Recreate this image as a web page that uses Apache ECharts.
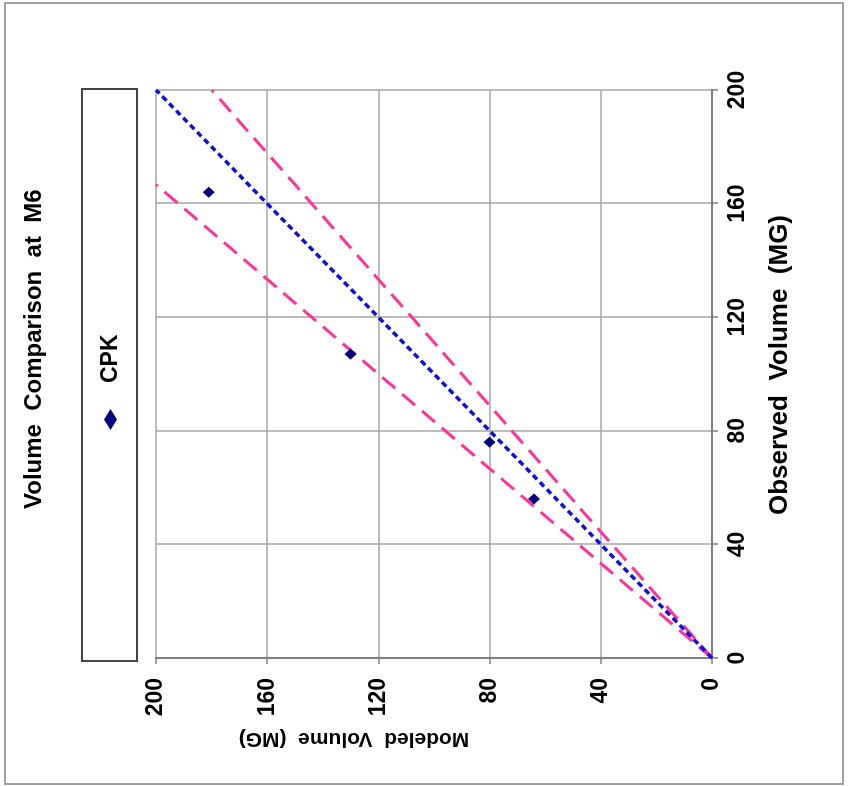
<!DOCTYPE html>
<html>
<head>
<meta charset="utf-8">
<script src="https://cdn.jsdelivr.net/npm/echarts@6/dist/echarts.min.js"></script>
<style>
  html, body { margin: 0; padding: 0; background: #fff; overflow: hidden; }
  #wrap { position: absolute; left: 0; top: 0; width: 849px; height: 786px; overflow: hidden; }
  /* chart is drawn upright, then turned 90° counter-clockwise like the reference */
  #chart { position: absolute; left: 0; top: 0; width: 786px; height: 849px;
           transform-origin: 0 0; transform: translate(0, 786px) rotate(-90deg); }
</style>
</head>
<body>
<div id="wrap"><div id="chart"></div></div>
<script>
// ---- data ----
const titleText = 'Volume  Comparison  at  M6';
const xName = 'Observed  Volume  (MG)';
const yName = 'Modeled  Volume  (MG)';
const seriesName = 'CPK';
const observed = [164, 107, 76, 56];
const modeled  = [181, 130, 80, 64];
const oneToOne   = [[0, 0], [200, 200]];
const upperBand  = [[0, 0], [166.7, 200]];  // modeled = 1.2 x observed
const lowerBand  = [[0, 0], [200, 180]];    // modeled = 0.9 x observed
const axisMin = 0, axisMax = 200, axisStep = 40;

const font = "'Liberation Sans', Arial, sans-serif";
const points = observed.map((o, i) => [o, modeled[i]]);

const chart = echarts.init(document.getElementById('chart'), null, { renderer: 'canvas' });
chart.setOption({
  backgroundColor: '#fff',
  animation: false,
  title: {
    text: titleText, left: 277, top: 22, padding: 0,
    textStyle: { fontFamily: font, fontSize: 24, fontWeight: 'bold', color: '#000' }
  },
  legend: {
    data: [seriesName], left: 356, top: 99, padding: 0,
    itemWidth: 21, itemHeight: 13, icon: 'diamond',
    itemStyle: { color: '#000080', opacity: 1 },
    textStyle: { fontFamily: font, fontSize: 23, fontWeight: 'bold', color: '#000', padding: [0, 0, 0, 21] }
  },
  graphic: [
    { type: 'rect', shape: { x: 2, y: 5, width: 781, height: 838 }, silent: true,
      style: { fill: null, stroke: '#a0a0a0', lineWidth: 2 } },
    { type: 'rect', shape: { x: 125, y: 82, width: 572, height: 55 }, silent: true,
      style: { fill: null, stroke: '#444', lineWidth: 2 } }
  ],
  grid: { left: 128, right: 90, top: 156, bottom: 137 },
  xAxis: {
    type: 'value', min: axisMin, max: axisMax, interval: axisStep,
    name: xName, nameLocation: 'middle', nameGap: 55,
    nameTextStyle: { fontFamily: font, fontSize: 26, fontWeight: 'bold', color: '#000', padding: [0, 0, 0, 18] },
    axisLine: { show: true, lineStyle: { color: '#808080', width: 2 } },
    axisTick: { show: true, inside: false, length: 6, lineStyle: { color: '#808080', width: 1.5 } },
    axisLabel: { margin: 14, fontFamily: font, fontSize: 23, fontWeight: 'bold', color: '#000' },
    splitLine: { show: true, lineStyle: { color: '#a6a6a6', width: 1.5 } }
  },
  yAxis: {
    type: 'value', min: axisMin, max: axisMax, interval: axisStep,
    name: yName, nameLocation: 'middle', nameGap: 70,
    nameTextStyle: { fontFamily: font, fontSize: 21, fontWeight: 'bold', color: '#000', padding: [0, 0, 0, 160] },
    axisLine: { show: true, lineStyle: { color: '#808080', width: 2 } },
    axisTick: { show: true, inside: false, length: 6, lineStyle: { color: '#808080', width: 1.5 } },
    axisLabel: { margin: 20, fontFamily: font, fontSize: 23, fontWeight: 'bold', color: '#000' },
    splitLine: { show: true, lineStyle: { color: '#a6a6a6', width: 1.5 } }
  },
  series: [
    { name: 'upper', type: 'line', data: upperBand, symbol: 'none', z: 2,
      lineStyle: { color: '#ff3399', width: 3, type: [17, 9] } },
    { name: 'lower', type: 'line', data: lowerBand, symbol: 'none', z: 2,
      lineStyle: { color: '#ff3399', width: 3, type: [17, 9] } },
    { name: '1:1', type: 'line', data: oneToOne, symbol: 'none', z: 3,
      lineStyle: { color: '#1010e0', width: 3.5, type: [6, 4] } },
    { name: seriesName, type: 'scatter', data: points, symbol: 'diamond', symbolSize: [11, 12], z: 5,
      itemStyle: { color: '#000080', opacity: 1 } }
  ]
});
</script>
</body>
</html>
